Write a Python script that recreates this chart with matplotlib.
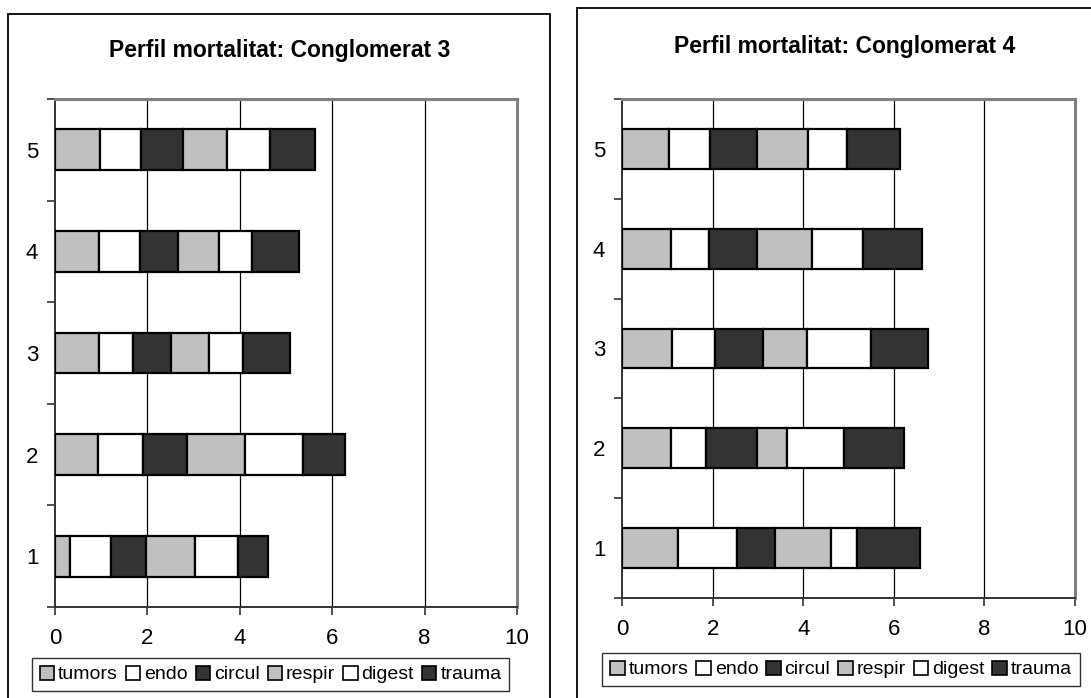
import matplotlib
matplotlib.use("Agg")
import matplotlib.pyplot as plt
from matplotlib.patches import Rectangle, Patch
import numpy as np

plt.rcParams['font.family'] = ['Liberation Sans', 'DejaVu Sans']

categories = ["1", "2", "3", "4", "5"]
causes = ["tumors", "endo", "circul", "respir", "digest", "trauma"]
colors = ["#C0C0C0", "#FFFFFF", "#333333", "#C0C0C0", "#FFFFFF", "#333333"]

# Conglomerat 3 (rows = categories 1..5)
c3_tumors = [0.32, 0.92, 0.96, 0.96, 0.97]
c3_endo   = [0.90, 0.99, 0.73, 0.87, 0.89]
c3_circul = [0.76, 0.95, 0.82, 0.83, 0.90]
c3_respir = [1.06, 1.26, 0.82, 0.88, 0.97]
c3_digest = [0.92, 1.24, 0.74, 0.73, 0.93]
c3_trauma = [0.65, 0.91, 1.01, 1.01, 0.96]

# Conglomerat 4
c4_tumors = [1.24, 1.08, 1.10, 1.08, 1.03]
c4_endo   = [1.30, 0.77, 0.95, 0.84, 0.91]
c4_circul = [0.84, 1.12, 1.07, 1.05, 1.04]
c4_respir = [1.24, 0.67, 0.97, 1.22, 1.12]
c4_digest = [0.56, 1.26, 1.40, 1.13, 0.86]
c4_trauma = [1.40, 1.32, 1.27, 1.31, 1.17]

titles = ["Perfil mortalitat: Conglomerat 3", "Perfil mortalitat: Conglomerat 4"]
xticks = [0, 2, 4, 6, 8, 10]

W, H = 1091, 698
fig = plt.figure(figsize=(W / 100, H / 100), dpi=100)


def px_axes(x0, y0, x1, y1):
    return fig.add_axes([x0 / W, 1 - y1 / H, (x1 - x0) / W, (y1 - y0) / H])


def frame(x0, y0, x1, y1):
    fig.patches.append(Rectangle((x0 / W, 1 - y1 / H), (x1 - x0) / W, (y1 - y0) / H,
                                 transform=fig.transFigure, fill=False,
                                 edgecolor="#000000", linewidth=1.3))


frame(8, 14, 550, 710)
frame(577, 8, 1100, 710)


def draw(ax, series, title, title_xy, legend_box):
    y = np.arange(len(categories))
    left = np.zeros(len(categories))
    for name, vals, col in zip(causes, series, colors):
        ax.barh(y, vals, left=left, height=0.4, color=col, edgecolor="black",
                linewidth=1.6, label=name, zorder=3)
        left = left + np.array(vals)
    ax.set_xlim(0, 10)
    ax.set_ylim(-0.5, len(categories) - 0.5)
    ax.set_xticks(xticks)
    ax.set_xticklabels([str(t) for t in xticks], fontsize=16)
    ax.set_yticks(y)
    ax.set_yticklabels(categories, fontsize=16)
    ax.set_yticks(np.arange(-0.5, len(categories)), minor=True)
    ax.tick_params(axis='y', which='major', length=0, pad=12)
    ax.tick_params(axis='y', which='minor', length=6, width=1.2, direction='out', color="#333333")
    ax.tick_params(axis='x', which='major', length=6, width=1.2, direction='out', pad=9, color="#333333")
    for xv in xticks[1:-1]:
        ax.axvline(xv, color="#000000", linewidth=0.9, zorder=1)
    for s in ("top", "right"):
        ax.spines[s].set_color("#808080")
        ax.spines[s].set_linewidth(2.2)
    for s in ("left", "bottom"):
        ax.spines[s].set_color("#333333")
        ax.spines[s].set_linewidth(1.4)
    fig.text(title_xy[0] / W, 1 - title_xy[1] / H, title, fontsize=16.5, fontweight='bold',
             ha='center', va='center')
    handles = [Patch(facecolor=c, edgecolor="black", linewidth=1.2) for c in colors]
    x0, y0, x1, y1 = legend_box
    leg = fig.legend(handles, causes, loc='center', ncol=6,
                     bbox_to_anchor=(((x0 + x1) / 2) / W, 1 - ((y0 + y1) / 2) / H),
                     fontsize=14, frameon=True, fancybox=False, shadow=False,
                     handlelength=0.75, handleheight=0.75, handletextpad=0.2,
                     columnspacing=0.4, borderpad=0.4, borderaxespad=0)
    leg.get_frame().set_edgecolor("black")
    leg.get_frame().set_linewidth(1.0)


ax1 = px_axes(55, 99, 517, 607)
draw(ax1, [c3_tumors, c3_endo, c3_circul, c3_respir, c3_digest, c3_trauma],
     titles[0], (280, 51), (42, 657, 499, 692))

ax2 = px_axes(622, 99, 1075, 598)
draw(ax2, [c4_tumors, c4_endo, c4_circul, c4_respir, c4_digest, c4_trauma],
     titles[1], (845, 47), (612, 651, 1070, 688))

fig.savefig("out.png", dpi=100)
